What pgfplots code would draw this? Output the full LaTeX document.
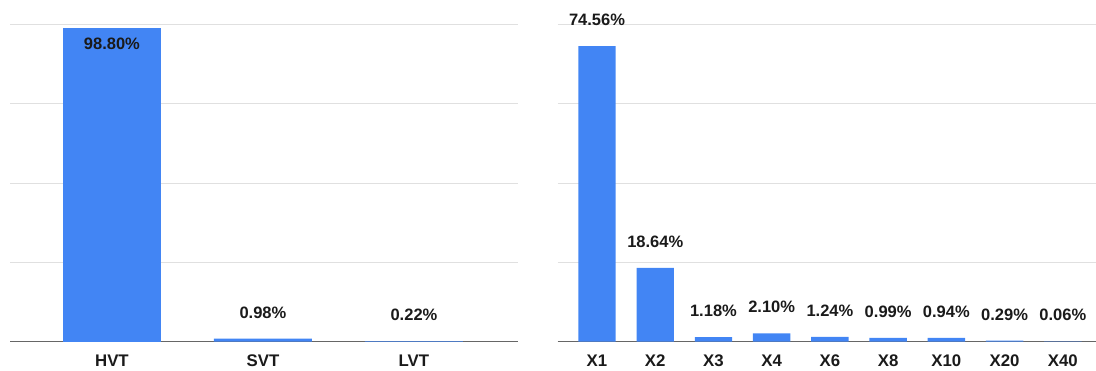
\documentclass[border=0pt]{standalone}
\usepackage{pgfplots}
\pgfplotsset{compat=1.18}
\usepackage{fontspec}
\setmainfont{Liberation Sans}
\definecolor{barblue}{HTML}{4285F4}
\definecolor{gridgray}{HTML}{E0E0E0}
\definecolor{basegray}{HTML}{666666}
\definecolor{labelblack}{HTML}{1A1A1A}

\pgfplotsset{
  shareframe/.style={
    scale only axis,
    anchor=south west,
    height=317.2pt,
    ybar, bar shift=0pt,
    ymin=0,
    clip=false,
    axis x line*=bottom,
    axis y line*=left,
    y axis line style={draw=none},
    x axis line style={draw=basegray, line width=1pt, -},
    ymajorgrids,
    grid style={draw=gridgray, line width=0.9pt},
    major tick length=0pt,
    yticklabels={},
    tick label style={font=\fontsize{16.8}{19}\selectfont\bfseries, text=labelblack},
    xticklabel style={anchor=base, inner sep=0pt, yshift=-25pt},
    /pgf/number format/assume math mode=true,
    point meta=y,
    nodes near coords={\pgfmathprintnumber[fixed, fixed zerofill, precision=2]{\pgfplotspointmeta}\%},
    every node near coord/.append style={font=\fontsize{16.5}{19}\selectfont\bfseries,
      text=labelblack, anchor=base, inner sep=0pt, yshift=20.5pt},
  },
  bluebar/.style={draw=none, fill=barblue},
}

\begin{document}
\begin{tikzpicture}
% threshold-voltage flavour shares
\begin{axis}[shareframe,
  at={(0pt,0pt)}, width=507.7pt,
  xmin=-0.675, xmax=2.687, ymax=100,
  ytick={0,25,50,75,100},
  xtick={0,1,2},
  xticklabels={HVT,SVT,LVT},
  bar width=98pt]
\addplot[bluebar, every node near coord/.append style={yshift=-42pt}]
  coordinates {(0,98.80)};
\addplot[bluebar] coordinates {(1,0.98) (2,0.22)};
\end{axis}
% drive-strength shares
\begin{axis}[shareframe,
  at={(547.7pt,0pt)}, width=538.3pt,
  xmin=-0.675, xmax=8.57, ymax=80,
  ytick={0,20,40,60,80},
  xtick={0,...,8},
  xticklabels={X1,X2,X3,X4,X6,X8,X10,X20,X40},
  bar width=37.4pt]
\addplot[bluebar] coordinates {
  (0,74.56) (1,18.64) (2,1.18) (3,2.10) (4,1.24)
  (5,0.99) (6,0.94) (7,0.29) (8,0.06)};
\end{axis}
\pgfresetboundingbox
\path (-10pt,-28.3pt) rectangle (1086pt,341.7pt);
\end{tikzpicture}
\end{document}
